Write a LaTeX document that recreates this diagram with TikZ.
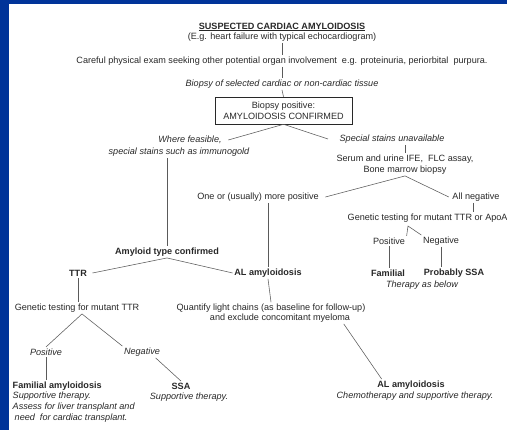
\documentclass[tikz,border=0pt]{standalone}
\usepackage{fontspec}
\setmainfont{Liberation Sans}
\definecolor{frameblue}{RGB}{0,51,153}
\definecolor{inkgray}{RGB}{40,40,40}
\definecolor{linegray}{RGB}{90,90,90}
\tikzset{
  txt/.style={font=\fontsize{9.1}{10.7}\selectfont, text=inkgray, inner sep=1.5pt},
  itxt/.style={txt, font=\fontsize{9.1}{10.7}\selectfont\itshape},
  btxt/.style={txt, font=\fontsize{9.1}{10.7}\selectfont\bfseries},
  conn/.style={draw=linegray, line width=0.55pt},
  boxnode/.style={txt, draw=inkgray, line width=0.6pt, minimum width=137pt, minimum height=27pt, align=center}
}
\begin{document}
\begin{tikzpicture}[x=1pt,y=-1pt]
\useasboundingbox (0,0) rectangle (507,430);
\fill[frameblue] (0,0) rectangle (507,430);
\fill[white] (9,4) rectangle (507,430);

\node[btxt] (title) at (282,27) {\underline{SUSPECTED CARDIAC AMYLOIDOSIS}};
\node[txt] (sub) at (282,37) {(E.g. heart failure with typical echocardiogram)};
\node[txt] (careful) at (282,61) {Careful physical exam seeking other potential organ involvement\ \ e.g. proteinuria, periorbital\ \ purpura.};
\node[itxt] (biop) at (282,84) {Biopsy of selected cardiac or non-cardiac tissue};
\node[boxnode] (box) at (283.5,110.5) {Biopsy positive:\\AMYLOIDOSIS CONFIRMED};

\node[itxt] (wf) at (190,140) {Where feasible,};
\node[itxt] (ssi) at (179,152) {special stains such as immunogold};
\node[itxt] (ssu) at (392,139) {Special stains unavailable};
\node[txt] (serum) at (405,159) {Serum and urine IFE,\ \ FLC assay,};
\node[txt] (bone) at (405,170) {Bone marrow biopsy};
\node[txt] (omp) at (258,197) {One or (usually) more positive};
\node[txt] (alln) at (476,197) {All negative};
\node[txt, anchor=west] (gt2) at (346,218) {Genetic testing for mutant TTR or ApoA};
\node[txt] (pos2) at (389,241) {Positive};
\node[txt] (neg2) at (441,241) {Negative};
\node[btxt] (fam2) at (388,273) {Familial};
\node[btxt] (pssa) at (454,273) {Probably SSA};
\node[itxt] (tab) at (422,285) {Therapy as below};

\node[btxt] (atc) at (167,252) {Amyloid type confirmed};
\node[btxt] (ttr) at (78,273) {TTR};
\node[btxt] (al1) at (268,273) {AL amyloidosis};
\node[txt] (gt1) at (77,308) {Genetic testing for mutant TTR};
\node[txt] (quant) at (271,308) {Quantify light chains (as baseline for follow-up)};
\node[txt] (quant2) at (280,318) {and exclude concomitant myeloma};
\node[itxt] (pos1) at (46,352) {Positive};
\node[itxt] (neg1) at (142,352) {Negative};
\node[txt, anchor=north west, align=left, font=\fontsize{9.1}{10.7}\selectfont] (fam1) at (11,380)
  {\textbf{Familial amyloidosis}\\\textit{Supportive therapy.}\\\textit{Assess for liver transplant and}\\\textit{\hspace{2pt}need\ \ for cardiac transplant.}};
\node[btxt] (ssa) at (181,386) {SSA};
\node[itxt] (ssat) at (189,397) {Supportive therapy.};
\node[btxt] (al2) at (411,385) {AL amyloidosis};
\node[itxt] (chemo) at (415,396) {Chemotherapy and supportive therapy.};

\coordinate (gt2a) at (408,226);
\coordinate (alnx) at (473,203);

\draw[conn] (sub.south) -- (careful.north);
\draw[conn] (careful.south) -- (biop.north);
\draw[conn] (biop.south) -- (box.north);
\draw[conn] ([xshift=5pt]wf.east) -- (box.south) -- ([xshift=-10pt]ssu.west);
\draw[conn] (atc.north |- ssi.south) -- (atc.north);
\draw[conn] (serum.north |- ssu.south) -- (serum.north);
\draw[conn] ([xshift=5pt]omp.east) -- (bone.south) -- ([xshift=-2pt]alln.west);
\draw[conn] (al1.north |- omp.south) -- (al1.north);
\draw[conn] (alnx) -- (alnx |- gt2.north);
\draw[conn] (pos2.north east) -- (gt2a) -- (neg2.north west);
\draw[conn] (pos2.south) -- (pos2.south |- fam2.north);
\draw[conn] (neg2.south) -- (neg2.south |- pssa.north);
\draw[conn] ([xshift=4pt]ttr.east) -- (atc.south) -- (al1.west);
\draw[conn] (ttr.south) -- (ttr.south |- gt1.north);
\draw[conn] (pos1.north) -- ([xshift=5pt]gt1.south) -- (neg1.north west);
\draw[conn] (pos1.south) -- (pos1.south |- fam1.north);
\draw[conn] ([xshift=-6pt]neg1.south east) -- (ssa.north);
\draw[conn] (al1.south) -- (quant.north);
\draw[conn] ([xshift=-8pt]quant2.south east) -- ([xshift=6pt]al2.north west);
\end{tikzpicture}
\end{document}
